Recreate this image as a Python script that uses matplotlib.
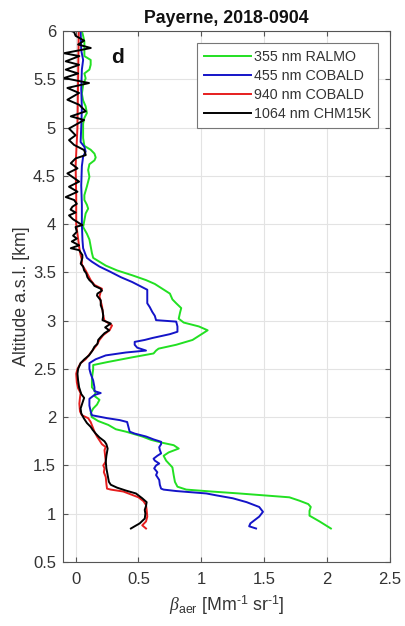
import matplotlib
matplotlib.use("Agg")
import matplotlib.pyplot as plt
import numpy as np

plt.rcParams["font.family"] = ["Liberation Sans", "DejaVu Sans"]
plt.rcParams["mathtext.fontset"] = "custom"
plt.rcParams["mathtext.rm"] = "Liberation Sans"
plt.rcParams["mathtext.it"] = "Liberation Serif:italic"

# Aerosol backscatter profiles, Payerne 2018-09-04
# (altitude in km a.s.l., backscatter in Mm^-1 sr^-1)
alt_355 = [0.847, 0.92, 0.98, 1.03, 1.07, 1.10, 1.135, 1.17, 1.19, 1.21, 1.23, 1.25,
           1.28, 1.33, 1.40, 1.48, 1.55, 1.60, 1.635, 1.675, 1.71, 1.735, 1.765, 1.80,
           1.85, 1.875, 1.92, 1.96, 2.00, 2.04, 2.09, 2.13, 2.18, 2.22, 2.26, 2.31,
           2.40, 2.50, 2.54, 2.57, 2.62, 2.66, 2.69, 2.71, 2.75, 2.80, 2.85, 2.90,
           2.94, 2.98, 3.02, 3.08, 3.13, 3.18, 3.22, 3.28, 3.33, 3.38, 3.42, 3.47,
           3.52, 3.57, 3.61, 3.65, 3.70, 3.77, 3.84, 3.90, 3.97, 4.04, 4.11, 4.16,
           4.20, 4.25, 4.30, 4.39, 4.49, 4.56, 4.62, 4.66, 4.69, 4.73, 4.77, 4.81,
           4.89, 4.97, 5.04, 5.10, 5.15, 5.22, 5.28, 5.35, 5.44, 5.51, 5.56, 5.60,
           5.65, 5.70, 5.74, 5.80, 5.89, 5.95, 6.00]
beta_355 = [2.03, 1.94, 1.86, 1.86, 1.87, 1.85, 1.78, 1.70, 1.50, 1.30, 1.08, 0.88,
            0.81, 0.79, 0.78, 0.77, 0.72, 0.70, 0.74, 0.82, 0.78, 0.69, 0.60, 0.53,
            0.40, 0.32, 0.26, 0.18, 0.13, 0.12, 0.14, 0.17, 0.19, 0.15, 0.16, 0.13,
            0.13, 0.14, 0.14, 0.25, 0.45, 0.62, 0.64, 0.66, 0.80, 0.93, 0.99, 1.05,
            0.98, 0.86, 0.82, 0.83, 0.84, 0.80, 0.77, 0.75, 0.69, 0.63, 0.56, 0.45,
            0.33, 0.24, 0.19, 0.14, 0.13, 0.12, 0.11, 0.09, 0.06, 0.07, 0.08, 0.10,
            0.09, 0.07, 0.07, 0.09, 0.11, 0.10, 0.11, 0.15, 0.16, 0.15, 0.12, 0.07,
            0.06, 0.06, 0.06, 0.07, 0.09, 0.08, 0.06, 0.05, 0.06, 0.08, 0.07, 0.11,
            0.12, 0.12, 0.07, 0.07, 0.07, 0.06, 0.05]

alt_455 = [0.847, 0.87, 0.90, 0.93, 0.97, 1.02, 1.07, 1.12, 1.16, 1.19, 1.21, 1.235,
           1.25, 1.26, 1.30, 1.35, 1.40, 1.43, 1.47, 1.50, 1.52, 1.55, 1.57, 1.60,
           1.625, 1.66, 1.69, 1.72, 1.745, 1.77, 1.80, 1.83, 1.85, 1.90, 1.95, 1.97,
           1.99, 2.02, 2.06, 2.12, 2.19, 2.23, 2.25, 2.27, 2.31, 2.38, 2.45, 2.50,
           2.56, 2.60, 2.64, 2.67, 2.69, 2.72, 2.75, 2.78, 2.80, 2.82, 2.86, 2.885,
           2.94, 2.99, 3.005, 3.05, 3.09, 3.14, 3.18, 3.25, 3.32, 3.36, 3.40, 3.45,
           3.51, 3.56, 3.61, 3.65, 3.68, 3.75, 3.83, 4.00, 4.20, 4.40, 4.60, 4.70,
           4.75, 4.80, 4.85, 5.00, 5.20, 5.40, 5.60, 5.70, 5.80, 6.00]
beta_455 = [1.435, 1.38, 1.39, 1.42, 1.46, 1.49, 1.46, 1.36, 1.25, 1.12, 1.04, 0.80,
            0.70, 0.68, 0.67, 0.665, 0.64, 0.65, 0.625, 0.64, 0.665, 0.63, 0.62, 0.65,
            0.68, 0.67, 0.665, 0.68, 0.68, 0.62, 0.56, 0.47, 0.43, 0.42, 0.41, 0.35,
            0.25, 0.13, 0.12, 0.11, 0.11, 0.15, 0.20, 0.15, 0.15, 0.14, 0.12, 0.11,
            0.11, 0.16, 0.24, 0.40, 0.56, 0.49, 0.47, 0.47, 0.55, 0.61, 0.75, 0.81,
            0.81, 0.80, 0.64, 0.63, 0.61, 0.59, 0.57, 0.57, 0.57, 0.51, 0.45, 0.36,
            0.27, 0.19, 0.13, 0.09, 0.08, 0.06, 0.055, 0.05, 0.05, 0.045, 0.05, 0.06,
            0.08, 0.07, 0.04, 0.045, 0.05, 0.045, 0.05, 0.06, 0.045, 0.04]

alt_940 = [0.847, 0.88, 0.92, 0.97, 1.04, 1.09, 1.13, 1.17, 1.20, 1.23, 1.25, 1.26,
           1.31, 1.38, 1.43, 1.47, 1.50, 1.54, 1.60, 1.66, 1.69, 1.72, 1.76, 1.80,
           1.85, 1.90, 1.95, 1.99, 2.02, 2.06, 2.14, 2.20, 2.25, 2.30, 2.36, 2.45,
           2.50, 2.56, 2.60, 2.65, 2.70, 2.75, 2.80, 2.85, 2.90, 2.95, 3.00, 3.05,
           3.10, 3.15, 3.20, 3.25, 3.30, 3.33, 3.37, 3.42, 3.47, 3.52, 3.58, 3.63,
           3.68, 3.75, 3.85, 4.00, 4.30, 4.60, 5.00, 5.50, 6.00]
beta_940 = [0.56, 0.53, 0.56, 0.57, 0.565, 0.56, 0.54, 0.50, 0.44, 0.38, 0.28, 0.25,
            0.245, 0.24, 0.225, 0.23, 0.22, 0.24, 0.235, 0.23, 0.24, 0.21, 0.19, 0.17,
            0.15, 0.135, 0.12, 0.10, 0.05, 0.035, 0.03, 0.035, 0.04, 0.02, 0.01, 0.005,
            0.015, 0.04, 0.08, 0.11, 0.14, 0.17, 0.19, 0.22, 0.27, 0.29, 0.23, 0.22,
            0.215, 0.21, 0.20, 0.19, 0.20, 0.21, 0.15, 0.12, 0.10, 0.08, 0.05, 0.05,
            0.04, 0.03, 0.02, 0.005, 0.005, 0.0, 0.015, 0.02, 0.025]

alt_1064 = [0.847, 0.87, 0.90, 0.95, 1.00, 1.04, 1.08, 1.12, 1.16, 1.21, 1.24, 1.27,
            1.30, 1.33, 1.40, 1.47, 1.54, 1.60, 1.675, 1.72, 1.75, 1.79, 1.83, 1.87,
            1.90, 1.94, 1.99, 2.04, 2.09, 2.15, 2.20, 2.24, 2.31, 2.38, 2.45, 2.50,
            2.56, 2.60, 2.64, 2.69, 2.73, 2.76, 2.80, 2.83, 2.87, 2.90, 2.93, 2.97,
            3.005, 3.05, 3.11, 3.16, 3.21, 3.26, 3.28, 3.31, 3.33, 3.36, 3.39, 3.42,
            3.45, 3.49, 3.52, 3.56, 3.59, 3.65, 3.68, 3.73, 3.75, 3.78, 3.82, 3.85,
            3.88, 3.92, 3.97, 3.99, 4.01, 4.05, 4.09, 4.12, 4.15, 4.18, 4.21, 4.25,
            4.28, 4.335, 4.387, 4.44, 4.525, 4.577, 4.63, 4.68, 4.715, 4.767, 4.82,
            4.87, 4.92, 4.99, 5.078, 5.116, 5.168, 5.236, 5.288, 5.358, 5.41, 5.461,
            5.513, 5.56, 5.60, 5.65, 5.686, 5.74, 5.77, 5.80, 5.824, 5.86, 5.90,
            5.95, 5.99, 6.02]
beta_1064 = [0.44, 0.47, 0.51, 0.55, 0.555, 0.55, 0.56, 0.565, 0.53, 0.48, 0.40, 0.33,
             0.28, 0.265, 0.255, 0.245, 0.24, 0.245, 0.255, 0.245, 0.23, 0.19, 0.16, 0.135,
             0.12, 0.09, 0.065, 0.045, 0.04, 0.055, 0.068, 0.045, 0.028, 0.02, 0.015, 0.02,
             0.04, 0.07, 0.107, 0.134, 0.15, 0.174, 0.18, 0.20, 0.23, 0.267, 0.235, 0.28,
             0.214, 0.22, 0.214, 0.20, 0.20, 0.17, 0.174, 0.21, 0.20, 0.15, 0.134, 0.11,
             0.094, 0.085, 0.068, 0.06, 0.041, 0.054, 0.054, 0.028, -0.038, 0.028, -0.03, 0.01,
             -0.02, 0.01, 0.0, 0.054, 0.028, -0.02, -0.052, 0.0, -0.04, -0.025, 0.01, -0.012,
             -0.078, 0.015, -0.052, 0.028, -0.065, 0.015, -0.038, 0.0, 0.081, 0.068, -0.012,
             -0.052, 0.0, -0.052, 0.068, -0.038, 0.081, 0.028, -0.065, 0.028, -0.065, 0.107,
             -0.092, 0.02, -0.078, 0.028, -0.078, 0.03, -0.092, 0.03, 0.121, 0.02, 0.068,
             0.0, -0.012, -0.08]

series = [
    (alt_355, beta_355, "#22e022", "355 nm RALMO"),
    (alt_455, beta_455, "#1414c8", "455 nm COBALD"),
    (alt_940, beta_940, "#e61e1e", "940 nm COBALD"),
    (alt_1064, beta_1064, "#000000", "1064 nm CHM15K"),
]

x_ticks = [0, 0.5, 1, 1.5, 2, 2.5]
x_ticklabels = ["0", "0.5", "1", "1.5", "2", "2.5"]
y_ticks = [0.5, 1, 1.5, 2, 2.5, 3, 3.5, 4, 4.5, 5, 5.5, 6]
y_ticklabels = ["0.5", "1", "1.5", "2", "2.5", "3", "3.5", "4", "4.5", "5", "5.5", "6"]

fig = plt.figure(figsize=(4.05, 6.26), dpi=100)
ax = fig.add_axes([63 / 405, 1 - 562 / 626, 327 / 405, 531 / 626])

for alt, beta, color, label in series:
    ax.plot(beta, alt, color=color, lw=1.4, label=label)

ax.set_xlim(-0.1, 2.5)
ax.set_ylim(0.5, 6)
ax.set_xticks(x_ticks)
ax.set_xticklabels(x_ticklabels)
ax.set_yticks(y_ticks)
ax.set_yticklabels(y_ticklabels)

edge = "#555555"
txt = "#333333"
ax.grid(True, color="#e3e3e3", lw=0.8)
ax.set_axisbelow(True)
for s in ax.spines.values():
    s.set_color(edge)
    s.set_linewidth(0.8)
ax.tick_params(direction="in", length=3.5, width=0.8, color=edge,
               top=True, right=True, labelsize=12, labelcolor=txt)
ax.tick_params(axis="x", pad=7)
ax.tick_params(axis="y", pad=5)

ax.set_title("Payerne, 2018-0904", fontsize=12.8, fontweight="bold", color="#111111", pad=6)
ax.set_ylabel("Altitude a.s.l. [km]", fontsize=12.8, color=txt, labelpad=2)
ax.set_xlabel(r"$\it{\beta}_{\rm aer}$ [Mm$^{\text{-}1}$ sr$^{\text{-}1}$]",
              fontsize=12.8, color=txt, labelpad=5)

ax.text(0.33, 5.73, "d", fontsize=15, fontweight="bold", ha="center", va="center", color="#111111")

leg = ax.legend(loc="upper right", bbox_to_anchor=(0.962, 0.977), borderaxespad=0,
                fontsize=10.3, handlelength=3.3, handletextpad=0.2, labelspacing=0.36,
                borderpad=0.45, fancybox=False, framealpha=1, edgecolor="#777777")
leg.get_frame().set_linewidth(0.8)
for t in leg.get_texts():
    t.set_color(txt)

fig.savefig("out.png", dpi=100)
